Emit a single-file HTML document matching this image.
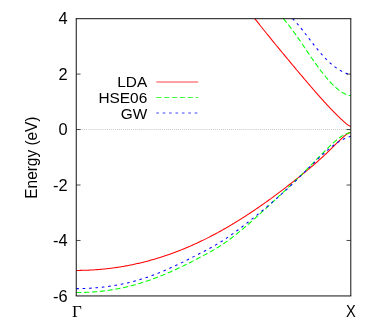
<!DOCTYPE html>
<html><head><meta charset="utf-8"><title>bands</title>
<style>
html,body{margin:0;padding:0;background:#fff;}
svg{display:block;will-change:transform;font-family:"Liberation Sans",sans-serif;font-size:15.4px;fill:#000;}
.serif{font-family:"Liberation Serif",serif;}
</style></head><body>
<svg width="374" height="327" viewBox="0 0 374 327">
<rect width="374" height="327" fill="#fff"/>
<g fill="none" stroke-linecap="butt" stroke-linejoin="round">
<path d="M76.25,129.54H350.8" stroke="#777" stroke-width="0.6" stroke-dasharray="0.7 1.34"/>
<g stroke-width="1.05">
<path d="M76.25,270.41 L77.25,270.41 L78.25,270.41 L79.25,270.40 L80.25,270.39 L81.25,270.37 L82.25,270.35 L83.25,270.33 L84.25,270.30 L85.25,270.27 L86.25,270.24 L87.25,270.20 L88.25,270.16 L89.25,270.11 L90.25,270.07 L91.25,270.01 L92.25,269.96 L93.25,269.90 L94.25,269.84 L95.25,269.77 L96.25,269.70 L97.25,269.62 L98.25,269.55 L99.25,269.46 L100.25,269.38 L101.25,269.29 L102.25,269.20 L103.25,269.10 L104.25,269.00 L105.25,268.90 L106.25,268.79 L107.25,268.68 L108.25,268.57 L109.25,268.45 L110.25,268.32 L111.25,268.20 L112.25,268.07 L113.25,267.94 L114.25,267.80 L115.25,267.66 L116.25,267.51 L117.25,267.37 L118.25,267.21 L119.25,267.06 L120.25,266.90 L121.25,266.74 L122.25,266.57 L123.25,266.40 L124.25,266.22 L125.25,266.05 L126.25,265.86 L127.25,265.68 L128.25,265.49 L129.25,265.29 L130.25,265.10 L131.25,264.90 L132.25,264.69 L133.25,264.48 L134.25,264.27 L135.25,264.05 L136.25,263.83 L137.25,263.61 L138.25,263.38 L139.25,263.15 L140.25,262.92 L141.25,262.68 L142.25,262.43 L143.25,262.19 L144.25,261.94 L145.25,261.68 L146.25,261.42 L147.25,261.16 L148.25,260.89 L149.25,260.62 L150.25,260.35 L151.25,260.07 L152.25,259.79 L153.25,259.50 L154.25,259.21 L155.25,258.92 L156.25,258.62 L157.25,258.32 L158.25,258.01 L159.25,257.70 L160.25,257.39 L161.25,257.07 L162.25,256.75 L163.25,256.42 L164.25,256.09 L165.25,255.76 L166.25,255.42 L167.25,255.08 L168.25,254.73 L169.25,254.38 L170.25,254.03 L171.25,253.67 L172.25,253.31 L173.25,252.94 L174.25,252.57 L175.25,252.20 L176.25,251.82 L177.25,251.44 L178.25,251.05 L179.25,250.66 L180.25,250.27 L181.25,249.87 L182.25,249.47 L183.25,249.06 L184.25,248.65 L185.25,248.24 L186.25,247.82 L187.25,247.40 L188.25,246.97 L189.25,246.54 L190.25,246.11 L191.25,245.67 L192.25,245.23 L193.25,244.78 L194.25,244.33 L195.25,243.88 L196.25,243.42 L197.25,242.96 L198.25,242.49 L199.25,242.02 L200.25,241.55 L201.25,241.07 L202.25,240.59 L203.25,240.10 L204.25,239.61 L205.25,239.12 L206.25,238.62 L207.25,238.12 L208.25,237.61 L209.25,237.10 L210.25,236.59 L211.25,236.07 L212.25,235.55 L213.25,235.02 L214.25,234.50 L215.25,233.96 L216.25,233.43 L217.25,232.88 L218.25,232.34 L219.25,231.79 L220.25,231.24 L221.25,230.68 L222.25,230.12 L223.25,229.56 L224.25,228.99 L225.25,228.42 L226.25,227.85 L227.25,227.27 L228.25,226.69 L229.25,226.10 L230.25,225.51 L231.25,224.92 L232.25,224.32 L233.25,223.72 L234.25,223.11 L235.25,222.51 L236.25,221.90 L237.25,221.28 L238.25,220.66 L239.25,220.04 L240.25,219.41 L241.25,218.78 L242.25,218.15 L243.25,217.51 L244.25,216.87 L245.25,216.23 L246.25,215.58 L247.25,214.93 L248.25,214.28 L249.25,213.62 L250.25,212.96 L251.25,212.30 L252.25,211.63 L253.25,210.96 L254.25,210.28 L255.25,209.61 L256.25,208.92 L257.25,208.24 L258.25,207.55 L259.25,206.86 L260.25,206.17 L261.25,205.47 L262.25,204.77 L263.25,204.07 L264.25,203.36 L265.25,202.65 L266.25,201.94 L267.25,201.22 L268.25,200.50 L269.25,199.78 L270.25,199.06 L271.25,198.33 L272.25,197.60 L273.25,196.87 L274.25,196.13 L275.25,195.39 L276.25,194.65 L277.25,193.90 L278.25,193.15 L279.25,192.40 L280.25,191.65 L281.25,190.89 L282.25,190.14 L283.25,189.37 L284.25,188.61 L285.25,187.84 L286.25,187.07 L287.25,186.30 L288.25,185.53 L289.25,184.75 L290.25,183.97 L291.25,183.19 L292.25,182.40 L293.25,181.61 L294.25,180.82 L295.25,180.03 L296.25,179.24 L297.25,178.44 L298.25,177.64 L299.25,176.84 L300.25,176.03 L301.25,175.22 L302.25,174.41 L303.25,173.59 L304.25,172.77 L305.25,171.95 L306.25,171.13 L307.25,170.30 L308.25,169.46 L309.25,168.63 L310.25,167.78 L311.25,166.94 L312.25,166.09 L313.25,165.23 L314.25,164.37 L315.25,163.50 L316.25,162.63 L317.25,161.75 L318.25,160.86 L319.25,159.97 L320.25,159.07 L321.25,158.17 L322.25,157.25 L323.25,156.33 L324.25,155.40 L325.25,154.46 L326.25,153.52 L327.25,152.56 L328.25,151.60 L329.25,150.63 L330.25,149.65 L331.25,148.67 L332.25,147.68 L333.25,146.68 L334.25,145.69 L335.25,144.69 L336.25,143.70 L337.25,142.71 L338.25,141.73 L339.25,140.76 L340.25,139.81 L341.25,138.86 L342.25,137.94 L343.25,137.05 L344.25,136.18 L345.25,135.34 L346.25,134.55 L347.25,133.83 L348.25,133.23 L349.25,132.79 L350.25,132.56 L350.80,132.52" stroke="#f00"/>
<path d="M254.80,18.57 L255.80,19.86 L256.80,21.14 L257.80,22.42 L258.80,23.69 L259.80,24.96 L260.80,26.22 L261.80,27.48 L262.80,28.74 L263.80,29.99 L264.80,31.23 L265.80,32.48 L266.80,33.72 L267.80,34.95 L268.80,36.19 L269.80,37.42 L270.80,38.65 L271.80,39.87 L272.80,41.10 L273.80,42.32 L274.80,43.54 L275.80,44.76 L276.80,45.98 L277.80,47.19 L278.80,48.40 L279.80,49.61 L280.80,50.82 L281.80,52.03 L282.80,53.24 L283.80,54.45 L284.80,55.65 L285.80,56.86 L286.80,58.06 L287.80,59.26 L288.80,60.46 L289.80,61.66 L290.80,62.86 L291.80,64.06 L292.80,65.25 L293.80,66.45 L294.80,67.64 L295.80,68.83 L296.80,70.03 L297.80,71.22 L298.80,72.40 L299.80,73.59 L300.80,74.78 L301.80,75.96 L302.80,77.14 L303.80,78.32 L304.80,79.50 L305.80,80.68 L306.80,81.85 L307.80,83.02 L308.80,84.19 L309.80,85.36 L310.80,86.52 L311.80,87.68 L312.80,88.84 L313.80,89.99 L314.80,91.14 L315.80,92.28 L316.80,93.43 L317.80,94.56 L318.80,95.69 L319.80,96.82 L320.80,97.94 L321.80,99.06 L322.80,100.17 L323.80,101.28 L324.80,102.38 L325.80,103.47 L326.80,104.55 L327.80,105.63 L328.80,106.70 L329.80,107.77 L330.80,108.82 L331.80,109.87 L332.80,110.90 L333.80,111.93 L334.80,112.95 L335.80,113.96 L336.80,114.95 L337.80,115.94 L338.80,116.91 L339.80,117.87 L340.80,118.81 L341.80,119.74 L342.80,120.66 L343.80,121.56 L344.80,122.43 L345.80,123.28 L346.80,124.10 L347.80,124.87 L348.80,125.56 L349.80,126.09 L350.80,126.30" stroke="#f00"/>
<path d="M76.25,292.50 L77.25,292.51 L78.25,292.50 L79.25,292.50 L80.25,292.49 L81.25,292.47 L82.25,292.45 L83.25,292.43 L84.25,292.40 L85.25,292.37 L86.25,292.33 L87.25,292.29 L88.25,292.25 L89.25,292.20 L90.25,292.14 L91.25,292.08 L92.25,292.02 L93.25,291.95 L94.25,291.88 L95.25,291.80 L96.25,291.71 L97.25,291.63 L98.25,291.53 L99.25,291.44 L100.25,291.34 L101.25,291.23 L102.25,291.12 L103.25,291.00 L104.25,290.88 L105.25,290.75 L106.25,290.62 L107.25,290.49 L108.25,290.35 L109.25,290.20 L110.25,290.05 L111.25,289.89 L112.25,289.73 L113.25,289.57 L114.25,289.40 L115.25,289.22 L116.25,289.04 L117.25,288.85 L118.25,288.66 L119.25,288.47 L120.25,288.27 L121.25,288.06 L122.25,287.85 L123.25,287.64 L124.25,287.42 L125.25,287.19 L126.25,286.96 L127.25,286.72 L128.25,286.48 L129.25,286.24 L130.25,285.99 L131.25,285.73 L132.25,285.47 L133.25,285.21 L134.25,284.93 L135.25,284.66 L136.25,284.38 L137.25,284.09 L138.25,283.80 L139.25,283.51 L140.25,283.21 L141.25,282.90 L142.25,282.59 L143.25,282.27 L144.25,281.95 L145.25,281.63 L146.25,281.30 L147.25,280.96 L148.25,280.62 L149.25,280.28 L150.25,279.93 L151.25,279.58 L152.25,279.22 L153.25,278.85 L154.25,278.48 L155.25,278.11 L156.25,277.73 L157.25,277.35 L158.25,276.96 L159.25,276.57 L160.25,276.17 L161.25,275.77 L162.25,275.37 L163.25,274.96 L164.25,274.54 L165.25,274.12 L166.25,273.70 L167.25,273.27 L168.25,272.84 L169.25,272.40 L170.25,271.96 L171.25,271.52 L172.25,271.07 L173.25,270.62 L174.25,270.16 L175.25,269.70 L176.25,269.24 L177.25,268.77 L178.25,268.30 L179.25,267.83 L180.25,267.35 L181.25,266.87 L182.25,266.38 L183.25,265.90 L184.25,265.41 L185.25,264.92 L186.25,264.42 L187.25,263.92 L188.25,263.42 L189.25,262.92 L190.25,262.42 L191.25,261.91 L192.25,261.40 L193.25,260.89 L194.25,260.38 L195.25,259.87 L196.25,259.35 L197.25,258.83 L198.25,258.32 L199.25,257.79 L200.25,257.27 L201.25,256.75 L202.25,256.22 L203.25,255.69 L204.25,255.16 L205.25,254.62 L206.25,254.08 L207.25,253.54 L208.25,252.99 L209.25,252.44 L210.25,251.88 L211.25,251.32 L212.25,250.75 L213.25,250.17 L214.25,249.59 L215.25,249.00 L216.25,248.40 L217.25,247.79 L218.25,247.18 L219.25,246.55 L220.25,245.92 L221.25,245.27 L222.25,244.61 L223.25,243.94 L224.25,243.27 L225.25,242.58 L226.25,241.88 L227.25,241.16 L228.25,240.44 L229.25,239.71 L230.25,238.97 L231.25,238.21 L232.25,237.45 L233.25,236.68 L234.25,235.90 L235.25,235.11 L236.25,234.32 L237.25,233.51 L238.25,232.70 L239.25,231.88 L240.25,231.06 L241.25,230.23 L242.25,229.39 L243.25,228.55 L244.25,227.70 L245.25,226.84 L246.25,225.98 L247.25,225.12 L248.25,224.25 L249.25,223.38 L250.25,222.50 L251.25,221.62 L252.25,220.73 L253.25,219.85 L254.25,218.95 L255.25,218.06 L256.25,217.16 L257.25,216.26 L258.25,215.36 L259.25,214.45 L260.25,213.55 L261.25,212.64 L262.25,211.72 L263.25,210.81 L264.25,209.89 L265.25,208.98 L266.25,208.06 L267.25,207.13 L268.25,206.21 L269.25,205.29 L270.25,204.36 L271.25,203.44 L272.25,202.51 L273.25,201.58 L274.25,200.65 L275.25,199.72 L276.25,198.79 L277.25,197.85 L278.25,196.92 L279.25,195.98 L280.25,195.04 L281.25,194.10 L282.25,193.16 L283.25,192.22 L284.25,191.28 L285.25,190.34 L286.25,189.39 L287.25,188.44 L288.25,187.49 L289.25,186.54 L290.25,185.59 L291.25,184.64 L292.25,183.68 L293.25,182.72 L294.25,181.76 L295.25,180.79 L296.25,179.83 L297.25,178.86 L298.25,177.88 L299.25,176.91 L300.25,175.93 L301.25,174.94 L302.25,173.96 L303.25,172.97 L304.25,171.97 L305.25,170.97 L306.25,169.97 L307.25,168.96 L308.25,167.95 L309.25,166.94 L310.25,165.92 L311.25,164.90 L312.25,163.88 L313.25,162.85 L314.25,161.83 L315.25,160.80 L316.25,159.77 L317.25,158.74 L318.25,157.71 L319.25,156.69 L320.25,155.66 L321.25,154.64 L322.25,153.62 L323.25,152.60 L324.25,151.59 L325.25,150.59 L326.25,149.59 L327.25,148.60 L328.25,147.63 L329.25,146.66 L330.25,145.70 L331.25,144.76 L332.25,143.83 L333.25,142.92 L334.25,142.03 L335.25,141.16 L336.25,140.31 L337.25,139.49 L338.25,138.70 L339.25,137.94 L340.25,137.21 L341.25,136.52 L342.25,135.87 L343.25,135.27 L344.25,134.71 L345.25,134.21 L346.25,133.77 L347.25,133.39 L348.25,133.09 L349.25,132.89 L350.25,132.78 L350.80,132.76" stroke="#0f0" stroke-dasharray="5.2 2.65"/>
<path d="M283.20,18.60 L284.20,19.72 L285.20,20.88 L286.20,22.07 L287.20,23.28 L288.20,24.53 L289.20,25.80 L290.20,27.09 L291.20,28.41 L292.20,29.74 L293.20,31.10 L294.20,32.48 L295.20,33.87 L296.20,35.28 L297.20,36.70 L298.20,38.14 L299.20,39.58 L300.20,41.04 L301.20,42.50 L302.20,43.97 L303.20,45.44 L304.20,46.92 L305.20,48.40 L306.20,49.88 L307.20,51.36 L308.20,52.83 L309.20,54.31 L310.20,55.78 L311.20,57.24 L312.20,58.69 L313.20,60.14 L314.20,61.57 L315.20,62.99 L316.20,64.40 L317.20,65.80 L318.20,67.18 L319.20,68.54 L320.20,69.88 L321.20,71.21 L322.20,72.51 L323.20,73.79 L324.20,75.05 L325.20,76.29 L326.20,77.49 L327.20,78.68 L328.20,79.83 L329.20,80.95 L330.20,82.05 L331.20,83.11 L332.20,84.14 L333.20,85.13 L334.20,86.09 L335.20,87.02 L336.20,87.90 L337.20,88.75 L338.20,89.56 L339.20,90.33 L340.20,91.05 L341.20,91.74 L342.20,92.37 L343.20,92.97 L344.20,93.51 L345.20,94.01 L346.20,94.45 L347.20,94.84 L348.20,95.17 L349.20,95.42 L350.20,95.57 L350.80,95.60" stroke="#0f0" stroke-dasharray="5.2 2.65"/>
<path d="M76.25,288.64 L77.25,288.64 L78.25,288.63 L79.25,288.62 L80.25,288.60 L81.25,288.58 L82.25,288.55 L83.25,288.52 L84.25,288.48 L85.25,288.45 L86.25,288.40 L87.25,288.36 L88.25,288.31 L89.25,288.25 L90.25,288.19 L91.25,288.13 L92.25,288.06 L93.25,287.99 L94.25,287.91 L95.25,287.83 L96.25,287.75 L97.25,287.66 L98.25,287.57 L99.25,287.47 L100.25,287.37 L101.25,287.27 L102.25,287.16 L103.25,287.04 L104.25,286.92 L105.25,286.80 L106.25,286.67 L107.25,286.54 L108.25,286.41 L109.25,286.27 L110.25,286.12 L111.25,285.97 L112.25,285.82 L113.25,285.66 L114.25,285.49 L115.25,285.32 L116.25,285.15 L117.25,284.97 L118.25,284.79 L119.25,284.60 L120.25,284.41 L121.25,284.21 L122.25,284.01 L123.25,283.80 L124.25,283.58 L125.25,283.36 L126.25,283.14 L127.25,282.91 L128.25,282.67 L129.25,282.43 L130.25,282.19 L131.25,281.93 L132.25,281.68 L133.25,281.42 L134.25,281.15 L135.25,280.87 L136.25,280.60 L137.25,280.31 L138.25,280.02 L139.25,279.73 L140.25,279.43 L141.25,279.12 L142.25,278.81 L143.25,278.49 L144.25,278.17 L145.25,277.84 L146.25,277.51 L147.25,277.17 L148.25,276.83 L149.25,276.48 L150.25,276.13 L151.25,275.77 L152.25,275.41 L153.25,275.04 L154.25,274.66 L155.25,274.28 L156.25,273.90 L157.25,273.51 L158.25,273.12 L159.25,272.72 L160.25,272.31 L161.25,271.91 L162.25,271.49 L163.25,271.08 L164.25,270.65 L165.25,270.23 L166.25,269.80 L167.25,269.36 L168.25,268.92 L169.25,268.48 L170.25,268.03 L171.25,267.58 L172.25,267.13 L173.25,266.67 L174.25,266.21 L175.25,265.74 L176.25,265.27 L177.25,264.80 L178.25,264.33 L179.25,263.85 L180.25,263.37 L181.25,262.88 L182.25,262.40 L183.25,261.91 L184.25,261.41 L185.25,260.92 L186.25,260.42 L187.25,259.92 L188.25,259.42 L189.25,258.92 L190.25,258.42 L191.25,257.91 L192.25,257.40 L193.25,256.90 L194.25,256.39 L195.25,255.88 L196.25,255.36 L197.25,254.85 L198.25,254.33 L199.25,253.82 L200.25,253.30 L201.25,252.78 L202.25,252.26 L203.25,251.74 L204.25,251.21 L205.25,250.69 L206.25,250.16 L207.25,249.62 L208.25,249.09 L209.25,248.55 L210.25,248.00 L211.25,247.45 L212.25,246.90 L213.25,246.34 L214.25,245.77 L215.25,245.20 L216.25,244.62 L217.25,244.04 L218.25,243.44 L219.25,242.84 L220.25,242.23 L221.25,241.61 L222.25,240.98 L223.25,240.34 L224.25,239.69 L225.25,239.03 L226.25,238.37 L227.25,237.69 L228.25,237.01 L229.25,236.31 L230.25,235.61 L231.25,234.90 L232.25,234.19 L233.25,233.46 L234.25,232.73 L235.25,232.00 L236.25,231.26 L237.25,230.51 L238.25,229.76 L239.25,229.00 L240.25,228.24 L241.25,227.48 L242.25,226.71 L243.25,225.94 L244.25,225.16 L245.25,224.38 L246.25,223.60 L247.25,222.82 L248.25,222.03 L249.25,221.24 L250.25,220.44 L251.25,219.65 L252.25,218.85 L253.25,218.05 L254.25,217.25 L255.25,216.44 L256.25,215.64 L257.25,214.83 L258.25,214.02 L259.25,213.20 L260.25,212.39 L261.25,211.57 L262.25,210.74 L263.25,209.92 L264.25,209.09 L265.25,208.26 L266.25,207.42 L267.25,206.59 L268.25,205.74 L269.25,204.90 L270.25,204.05 L271.25,203.19 L272.25,202.33 L273.25,201.47 L274.25,200.60 L275.25,199.72 L276.25,198.85 L277.25,197.96 L278.25,197.07 L279.25,196.18 L280.25,195.28 L281.25,194.38 L282.25,193.47 L283.25,192.56 L284.25,191.64 L285.25,190.72 L286.25,189.79 L287.25,188.86 L288.25,187.92 L289.25,186.98 L290.25,186.04 L291.25,185.08 L292.25,184.13 L293.25,183.17 L294.25,182.21 L295.25,181.24 L296.25,180.27 L297.25,179.30 L298.25,178.33 L299.25,177.35 L300.25,176.37 L301.25,175.38 L302.25,174.40 L303.25,173.41 L304.25,172.42 L305.25,171.43 L306.25,170.44 L307.25,169.45 L308.25,168.46 L309.25,167.46 L310.25,166.47 L311.25,165.49 L312.25,164.50 L313.25,163.51 L314.25,162.53 L315.25,161.55 L316.25,160.58 L317.25,159.61 L318.25,158.65 L319.25,157.69 L320.25,156.75 L321.25,155.81 L322.25,154.88 L323.25,153.95 L324.25,153.05 L325.25,152.15 L326.25,151.26 L327.25,150.39 L328.25,149.54 L329.25,148.70 L330.25,147.88 L331.25,147.08 L332.25,146.30 L333.25,145.54 L334.25,144.80 L335.25,144.09 L336.25,143.40 L337.25,142.74 L338.25,142.10 L339.25,141.48 L340.25,140.89 L341.25,140.33 L342.25,139.79 L343.25,139.28 L344.25,138.80 L345.25,138.34 L346.25,137.90 L347.25,137.49 L348.25,137.10 L349.25,136.73 L350.25,136.38 L350.80,136.19" stroke="#00f" stroke-dasharray="2.6 3.8"/>
<path d="M292.50,18.61 L293.50,19.61 L294.50,20.64 L295.50,21.72 L296.50,22.83 L297.50,23.98 L298.50,25.15 L299.50,26.35 L300.50,27.58 L301.50,28.83 L302.50,30.09 L303.50,31.37 L304.50,32.66 L305.50,33.95 L306.50,35.26 L307.50,36.57 L308.50,37.88 L309.50,39.19 L310.50,40.50 L311.50,41.80 L312.50,43.10 L313.50,44.38 L314.50,45.66 L315.50,46.92 L316.50,48.17 L317.50,49.40 L318.50,50.61 L319.50,51.80 L320.50,52.97 L321.50,54.12 L322.50,55.25 L323.50,56.35 L324.50,57.43 L325.50,58.48 L326.50,59.50 L327.50,60.49 L328.50,61.45 L329.50,62.39 L330.50,63.29 L331.50,64.16 L332.50,65.00 L333.50,65.81 L334.50,66.59 L335.50,67.34 L336.50,68.05 L337.50,68.73 L338.50,69.38 L339.50,69.99 L340.50,70.58 L341.50,71.13 L342.50,71.66 L343.50,72.15 L344.50,72.61 L345.50,73.05 L346.50,73.45 L347.50,73.83 L348.50,74.18 L349.50,74.50 L350.50,74.77 L350.80,74.80" stroke="#00f" stroke-dasharray="2.6 3.8"/>
</g>
<g stroke-width="0.75">
<path d="M156.3,82H198.2" stroke="#f00"/>
<path d="M156.3,97.5H198.2" stroke="#0f0" stroke-dasharray="5.2 2.65"/>
<path d="M156.3,113H198.2" stroke="#00f" stroke-dasharray="2.6 3.8"/>
</g>
<g stroke="#000" stroke-width="0.7"><path d="M76.25,74.07h4.3M350.8,74.07h-4.3"/><path d="M76.25,129.54h4.3M350.8,129.54h-4.3"/><path d="M76.25,185.01h4.3M350.8,185.01h-4.3"/><path d="M76.25,240.48h4.3M350.8,240.48h-4.3"/></g>
<path d="M75.75,18.70H351.3M75.75,295.95H351.3M76.25,18.6V295.95M350.8,18.6V295.95" stroke="#111" stroke-width="1"/>
</g>
<text x="67.7" y="24.35" font-size="16.4" text-anchor="end">4</text><text x="67.7" y="79.82" font-size="16.4" text-anchor="end">2</text><text x="67.7" y="135.29" font-size="16.4" text-anchor="end">0</text><text x="67.7" y="190.76" font-size="16.4" text-anchor="end">-2</text><text x="67.7" y="246.23" font-size="16.4" text-anchor="end">-4</text><text x="67.7" y="301.70" font-size="16.4" text-anchor="end">-6</text>
<text x="147.2" y="87.2" text-anchor="end">LDA</text>
<text x="147.2" y="102.7" text-anchor="end">HSE06</text>
<text x="147.3" y="118.5" text-anchor="end">GW</text>
<text transform="translate(37.2,157.6) rotate(-90) scale(1.0,1.13)" text-anchor="middle">Energy (eV)</text>
<text class="serif" transform="translate(76.9,316.6) scale(1.1,1.03)" font-size="15.4" text-anchor="middle">Γ</text>
<text transform="translate(350.8,316.8) scale(0.95,1.11)" text-anchor="middle">X</text>
</svg>
</body></html>
